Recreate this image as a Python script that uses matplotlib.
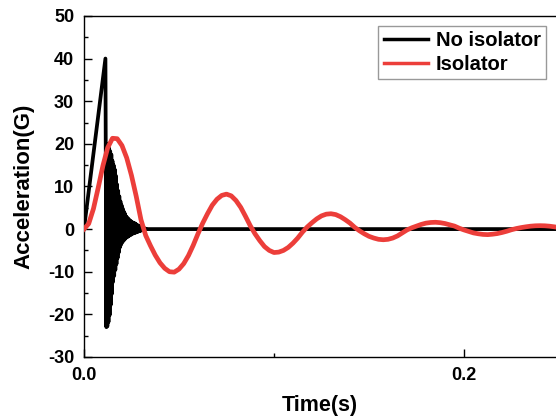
import numpy as np
import matplotlib
matplotlib.use("Agg")
import matplotlib.pyplot as plt
from matplotlib.ticker import MultipleLocator

plt.rcParams['font.family'] = ['Liberation Sans', 'DejaVu Sans']
plt.rcParams['font.weight'] = 'bold'
plt.rcParams['axes.unicode_minus'] = False

# No isolator: triangular pulse, then fast ringing that dies out
pulse_t = [0.0, 0.0113, 0.0118]
pulse_a = [0.0, 40.0, -23.0]
ring_start = 0.0120
ring_step = 0.0003
ring_a = [20, -22.8, 19.5, -21.8, 19, -20.2, 18.3, -17.8, 17.5, -15.2,
          16, -12.4, 15, -11, 14, -9.6, 12.5, -8.2, 10.5, -6.8,
          9, -5.5, 7.7, -4.3, 6.5, -3.7, 5.6, -3.2, 4.8, -2.8,
          4.1, -2.5, 3.6, -2.2, 3.0, -1.9, 2.7, -1.8, 2.4, -1.6,
          2.1, -1.4, 1.9, -1.3, 1.7, -1.1, 1.5, -1.0, 1.4, -0.9,
          1.3, -0.8, 1.1, -0.7, 0.9, -0.6, 0.8, -0.5, 0.6, -0.4,
          0.5, -0.3, 0.4, -0.2, 0.3, -0.15, 0.2, -0.1, 0.1, -0.05]
tail_t = [0.033, 0.25]
tail_a = [0.0, 0.0]

# Isolator: sampled every 2.5 ms
iso_t = np.linspace(0, 0.25, 101)
iso_a = [0.0, 1.27, 4.78, 9.7, 14.9, 19.1, 21.3, 21.2, 19.6, 16.7,
         12.6, 7.7, 2.2, -1.5, -3.9, -6.1, -7.9, -9.2, -10.0, -10.1,
         -9.4, -8.1, -6.2, -3.8, -1.1, 1.4, 3.6, 5.6, 7.0, 7.9,
         8.2, 7.8, 6.7, 5.1, 3.0, 0.8, -1.1, -2.7, -4.1, -5.0,
         -5.5, -5.4, -5.0, -4.3, -3.3, -2.1, -0.7, 0.5, 1.5, 2.4,
         3.1, 3.5, 3.6, 3.4, 2.9, 2.2, 1.4, 0.4, -0.4, -1.1,
         -1.7, -2.1, -2.4, -2.5, -2.4, -2.1, -1.6, -0.9, -0.2, 0.3,
         0.7, 1.1, 1.4, 1.55, 1.6, 1.5, 1.3, 1.0, 0.7, 0.2,
         -0.2, -0.55, -0.9, -1.1, -1.25, -1.3, -1.2, -1.05, -0.8, -0.5,
         -0.15, 0.13, 0.35, 0.53, 0.68, 0.77, 0.8, 0.77, 0.68, 0.53,
         0.35]

ring_t = ring_start + ring_step * np.arange(len(ring_a))
no_iso_t = np.concatenate([pulse_t, ring_t, tail_t])
no_iso_a = np.concatenate([pulse_a, ring_a, tail_a])

fig = plt.figure(figsize=(5.56, 4.19), dpi=100)
ax = fig.add_axes([0.151, 0.148, 0.849, 0.814])

ax.plot(no_iso_t, no_iso_a, color='black', lw=2.7, label='No isolator', zorder=2)
ax.plot(iso_t, iso_a, color='#EC3E3A', lw=3.4, label='Isolator', zorder=3)

ax.set_xlim(0, 0.2484)
ax.set_ylim(-30, 50)
ax.xaxis.set_major_locator(MultipleLocator(0.2))
ax.xaxis.set_minor_locator(MultipleLocator(0.1))
ax.yaxis.set_major_locator(MultipleLocator(10))
ax.yaxis.set_minor_locator(MultipleLocator(5))
ax.xaxis.set_major_formatter(plt.FormatStrFormatter('%.1f'))
ax.tick_params(which='both', direction='in', top=False, right=False,
               labelsize=13, width=1.0)
ax.tick_params(which='major', length=6, pad=7)
ax.tick_params(which='minor', length=3)
ax.spines['right'].set_visible(False)
for s in ['left', 'bottom', 'top']:
    ax.spines[s].set_linewidth(1.0)

ax.set_xlabel('Time(s)', fontsize=15.5, fontweight='bold', labelpad=8)
ax.set_ylabel('Acceleration(G)', fontsize=16, fontweight='bold', labelpad=10)

leg = ax.legend(loc='upper right', fontsize=14.5, frameon=True, fancybox=False,
                edgecolor='#808080', handlelength=2.2, handletextpad=0.4,
                labelspacing=0.25, borderaxespad=0.5, borderpad=0.25)
leg.get_frame().set_linewidth(1.0)
for line in leg.get_lines():
    line.set_linewidth(2.5)
for t in leg.get_texts():
    t.set_fontweight('bold')

fig.savefig('out.png', dpi=100)
